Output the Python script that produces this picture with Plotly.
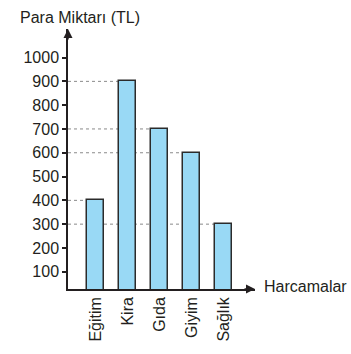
import plotly.graph_objects as go

categories = ["Eğitim", "Kira", "Gıda", "Giyim", "Sağlık"]
values = [400, 900, 700, 600, 300]
y_ticks = [100, 200, 300, 400, 500, 600, 700, 800, 900, 1000]
y_title = "Para Miktarı (TL)"
x_title = "Harcamalar"

W, H = 351, 354
L, R, T, B = 68.3, 96, 29, 58.3
pw, ph = W - L - R, H - T - B
bar_w = 0.53
x_range = [-0.858, 4.967]
y_range = [27.5, 1120]
FONT = "Liberation Sans, Arial, sans-serif"
INK = "#231f20"

fig = go.Figure()
fig.add_trace(go.Bar(
    x=list(range(len(categories))), y=values, width=bar_w,
    marker=dict(color="#99d9f5", line=dict(color="#2b2b2b", width=1.5)),
    hoverinfo="skip",
))

shapes = []
for i, v in enumerate(values):
    shapes.append(dict(type="line", xref="x", yref="y", x0=x_range[0], x1=i - bar_w / 2,
                       y0=v, y1=v, layer="below",
                       line=dict(color="#8a8a8a", width=1, dash="dot")))

annotations = [
    dict(text=y_title, xref="paper", yref="paper", x=(18 - L) / pw, y=(H - B - 17) / ph,
         xanchor="left", yanchor="middle", showarrow=False, font=dict(size=16, color=INK, family=FONT)),
    dict(text=x_title, xref="paper", yref="paper", x=(261.7 - L) / pw, y=(H - B - 293) / ph,
         xanchor="left", yanchor="middle", showarrow=False, font=dict(size=16, color=INK, family=FONT)),
    # arrowheads
    dict(xref="paper", yref="paper", x=0, y=1, ax=0, ay=12, text="", showarrow=True,
         arrowhead=2, arrowsize=1.2, arrowwidth=1.5, arrowcolor=INK),
    dict(xref="paper", yref="paper", x=1, y=0, ax=-12, ay=0, text="", showarrow=True,
         arrowhead=2, arrowsize=1.2, arrowwidth=1.5, arrowcolor=INK),
]

fig.update_layout(
    width=W, height=H,
    margin=dict(l=L, r=R, t=T, b=B, pad=0),
    paper_bgcolor="white", plot_bgcolor="white",
    showlegend=False,
    font=dict(family=FONT, size=16, color=INK),
    shapes=shapes, annotations=annotations,
    bargap=0,
    xaxis=dict(range=x_range, tickmode="array", tickvals=list(range(len(categories))),
               ticktext=categories, tickangle=-90, showgrid=False, zeroline=False,
               showline=True, linecolor=INK, linewidth=1.5, ticks="", ticklen=0,
               tickfont=dict(size=16, color=INK, family=FONT)),
    yaxis=dict(range=y_range, tickmode="array", tickvals=y_ticks, showgrid=False,
               zeroline=False, showline=True, linecolor=INK, linewidth=1.5,
               ticks="outside", ticklen=4, tickwidth=1.5, tickcolor=INK,
               tickfont=dict(size=16, color=INK, family=FONT)),
)

fig.write_html("out.html")
